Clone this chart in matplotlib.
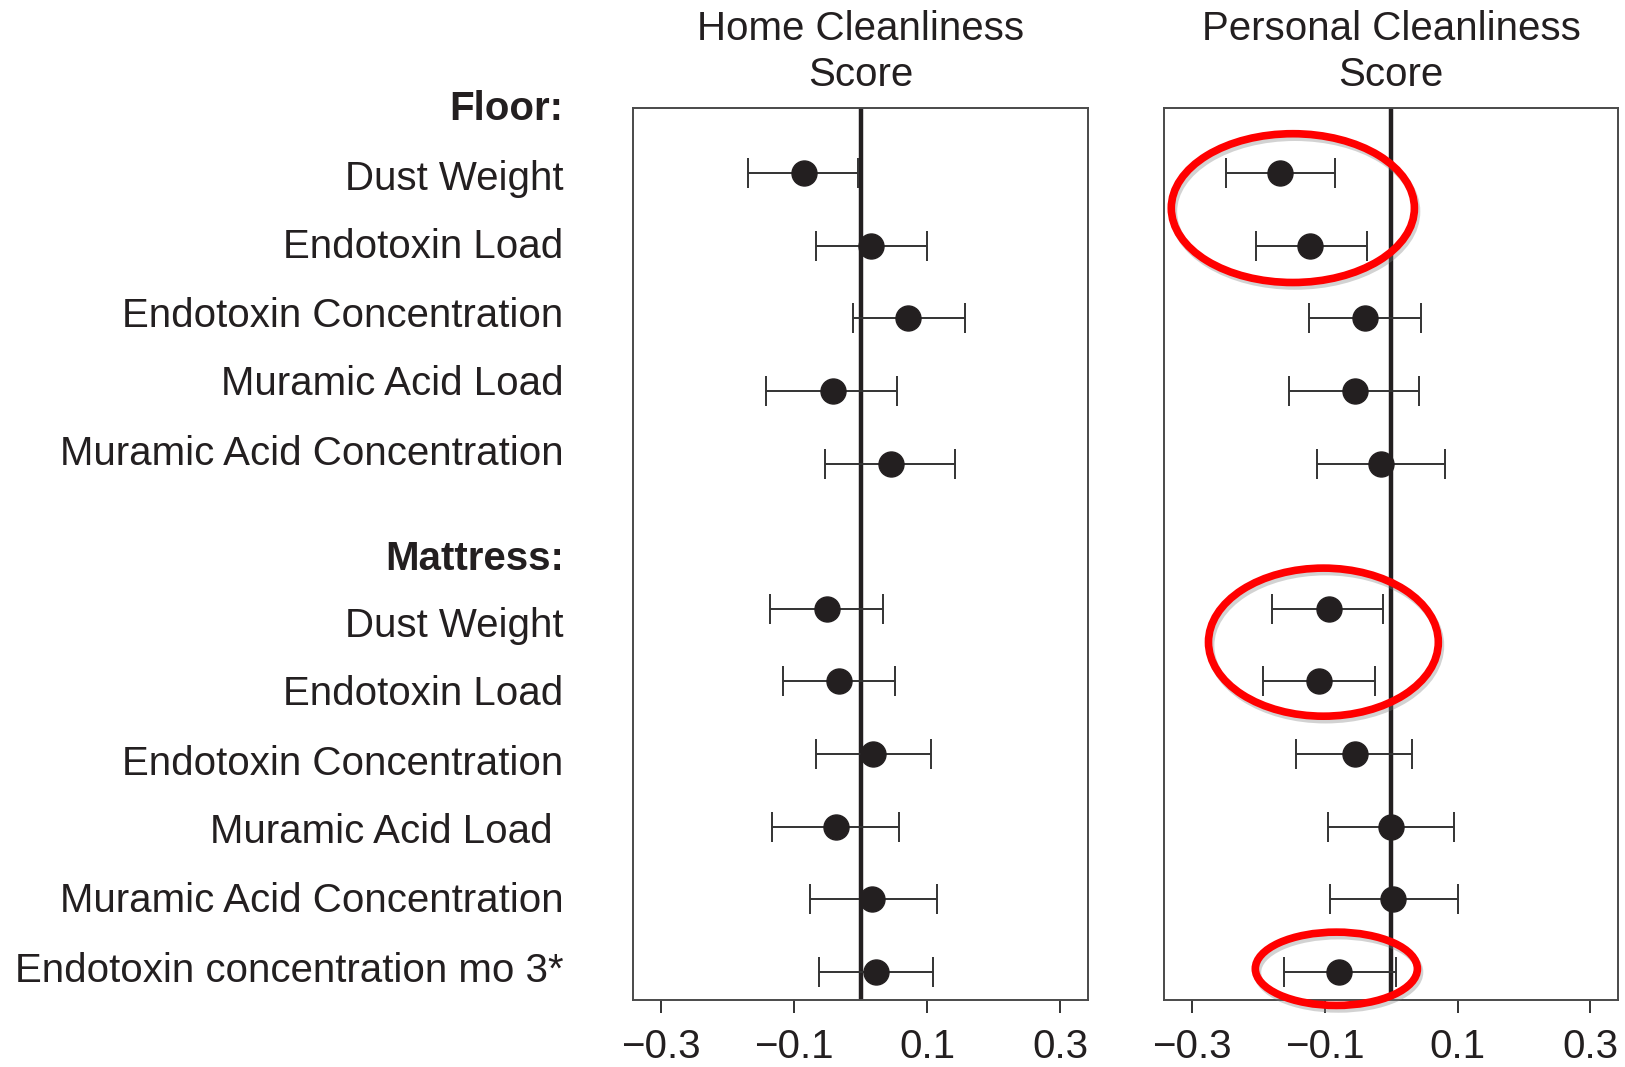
import matplotlib.pyplot as plt
import matplotlib.patheffects as pe
from matplotlib.patches import Ellipse
from matplotlib.transforms import blended_transform_factory

plt.rcParams['font.family'] = ['Liberation Sans', 'DejaVu Sans']

# Labels
headers = ["Floor:", "Mattress:"]
floor_items = ["Dust Weight", "Endotoxin Load", "Endotoxin Concentration",
               "Muramic Acid Load", "Muramic Acid Concentration"]
mattress_items = ["Dust Weight", "Endotoxin Load", "Endotoxin Concentration",
                  "Muramic Acid Load ", "Muramic Acid Concentration",
                  "Endotoxin concentration mo 3*"]
panel_titles = ["Home Cleanliness\nScore", "Personal Cleanliness\nScore"]
xticks = [-0.3, -0.1, 0.1, 0.3]
xtick_labels = ["\u22120.3", "\u22120.1", "0.1", "0.3"]

# Estimates with lower / upper CI (floor rows first, then mattress rows)
home_est = [-0.085, 0.016, 0.071, -0.042, 0.045,
            -0.051, -0.032, 0.019, -0.037, 0.017, 0.023]
home_lo = [-0.169, -0.068, -0.012, -0.142, -0.054,
           -0.136, -0.117, -0.068, -0.133, -0.077, -0.063]
home_hi = [-0.004, 0.100, 0.156, 0.055, 0.142,
           0.033, 0.052, 0.105, 0.058, 0.114, 0.108]

pers_est = [-0.167, -0.122, -0.039, -0.054, -0.016,
            -0.094, -0.109, -0.055, 0.000, 0.003, -0.078]
pers_lo = [-0.249, -0.204, -0.123, -0.154, -0.112,
           -0.179, -0.193, -0.143, -0.095, -0.092, -0.162]
pers_hi = [-0.084, -0.036, 0.045, 0.042, 0.081,
           -0.012, -0.025, 0.031, 0.095, 0.101, 0.008]

# row layout: header row 0, floor 1-5, header row 6, mattress 7-12
rows = list(range(1, 1 + len(floor_items))) + \
       list(range(7, 7 + len(mattress_items)))
label_rows = [1.08, 2.02, 2.96, 3.91, 4.87, 7.24, 8.18, 9.14, 10.08, 11.03, 11.99]
header_rows = [0.12, 6.31]

# highlighted groups on the personal panel: (x centre, row centre, width, height)
highlights = [(-0.148, 1.48, 0.366, 2.05),
              (-0.102, 7.46, 0.346, 2.04),
              (-0.0825, 11.96, 0.244, 1.01)]

ink = '#231f20'
fig = plt.figure(figsize=(16.25, 10.67), dpi=100)
ax1 = fig.add_axes([0.3897, 0.0628, 0.2800, 0.8357])
ax2 = fig.add_axes([0.7163, 0.0628, 0.2796, 0.8357])

panels = [(ax1, home_est, home_lo, home_hi), (ax2, pers_est, pers_lo, pers_hi)]
for (ax, est, lo, hi), title in zip(panels, panel_titles):
    xerr = [[e - l for e, l in zip(est, lo)], [h - e for e, h in zip(est, hi)]]
    ax.axvline(0, color=ink, lw=3.2, zorder=2)
    ax.errorbar(est, rows, xerr=xerr, fmt='o', color=ink, ecolor='#333333',
                elinewidth=1.4, capsize=10.5, capthick=1.4, markersize=18,
                zorder=3)
    ax.set_xlim(-0.342, 0.342)
    ax.set_ylim(12.39, 0.105)
    ax.set_xticks(xticks)
    ax.set_xticklabels(xtick_labels, fontsize=29)
    ax.set_yticks([])
    ax.tick_params(axis='x', length=9.5, width=1.4, color='#333333', pad=11,
                   labelcolor=ink)
    for sp in ax.spines.values():
        sp.set_color('#4a4a4a')
        sp.set_linewidth(1.4)
    ax.set_title(title, fontsize=29, color=ink, pad=16, linespacing=1.26)

# row labels on the left
trans = blended_transform_factory(ax1.transAxes, ax1.transData)
for lab, y in zip(floor_items + mattress_items, label_rows):
    ax1.text(-0.153, y, lab, transform=trans, ha='right', va='center',
             fontsize=29, color=ink, clip_on=False)
for lab, y in zip(headers, header_rows):
    ax1.text(-0.153, y, lab, transform=trans, ha='right', va='center',
             fontsize=29, fontweight='bold', color=ink, clip_on=False)

# red annotation ellipses
for cx, cy, w, h in highlights:
    ell = Ellipse((cx, cy), w, h, fill=False, edgecolor='#ff0000', lw=5.5,
                  zorder=5, clip_on=False)
    ell.set_path_effects([pe.SimpleLineShadow(offset=(1.5, -2.5), shadow_color='gray',
                                              alpha=0.35), pe.Normal()])
    ax2.add_patch(ell)

fig.savefig('out.png', dpi=100)
